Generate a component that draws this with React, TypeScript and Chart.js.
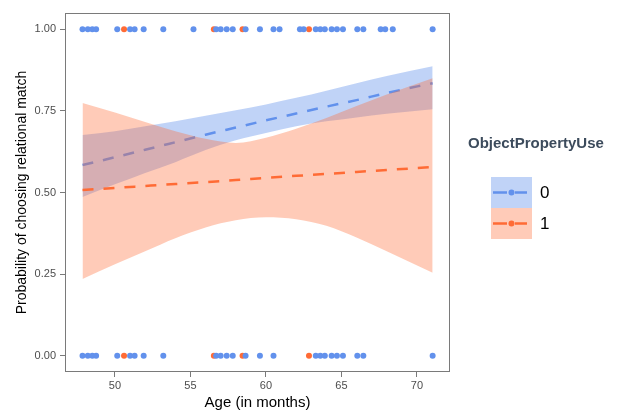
import React, { useEffect, useRef } from "react";
import { Chart, registerables } from "chart.js";

Chart.register(...registerables);

// ---- data ----
const bandAges = [47.85, 50, 52, 54, 56, 58, 60, 62, 64, 66, 68, 71.04];
const fit0 = [0.584, 0.608, 0.631, 0.654, 0.677, 0.699, 0.721, 0.742, 0.763, 0.783, 0.805, 0.835];
const upper0 = [0.676, 0.688, 0.703, 0.718, 0.735, 0.752, 0.77, 0.79, 0.812, 0.835, 0.857, 0.887];
const lower0 = [0.486, 0.525, 0.56, 0.593, 0.63, 0.66, 0.682, 0.703, 0.718, 0.73, 0.741, 0.755];
const fit1 = [0.508, 0.514, 0.52, 0.526, 0.532, 0.538, 0.545, 0.551, 0.557, 0.563, 0.569, 0.578];
const upper1 = [0.774, 0.745, 0.716, 0.688, 0.665, 0.652, 0.668, 0.695, 0.728, 0.765, 0.8, 0.85];
const lower1 = [0.235, 0.28, 0.32, 0.36, 0.393, 0.415, 0.424, 0.418, 0.398, 0.362, 0.32, 0.254];

const blueAt1 = [47.85, 48.2, 48.5, 48.75, 50.15, 51.0, 51.3, 51.9, 53.2, 55.2, 56.7, 57.0, 57.4, 57.8, 58.65, 59.6, 60.5, 60.9, 62.25, 62.5, 63.3, 63.6, 63.9, 64.35, 64.7, 65.1, 66.05, 66.45, 67.6, 67.9, 68.4, 71.04];
const orangeAt1 = [50.6, 56.55, 58.45, 62.85];
const blueAt0 = [47.85, 48.2, 48.5, 48.75, 50.15, 51.0, 51.3, 51.9, 53.2, 56.7, 57.0, 57.4, 57.8, 58.65, 59.6, 60.5, 63.3, 63.6, 63.9, 64.35, 64.7, 65.1, 66.05, 66.45, 71.04];
const orangeAt0 = [50.6, 56.55, 58.45, 62.85];

const xTicks = [50, 55, 60, 65, 70];
const yTicks = [0, 0.25, 0.5, 0.75, 1];
const legendTitle = "ObjectPropertyUse";
const legendLabels = ["0", "1"];

// ---- styles ----
const FAMILY = '"Liberation Sans", Arial, Helvetica, sans-serif';
const BLUE = "#6291EC";
const ORANGE = "#FF6B35";
const RIB_BLUE = "rgba(98,145,236,0.4)";
const RIB_ORANGE = "rgba(255,107,53,0.35)";
const AXIS_GREY = "#7a7a7a";
const CLEAR = "rgba(0,0,0,0)";

const legendPlugin = {
  id: "ggLegend",
  afterDraw(chart: any) {
    const c = chart.ctx as CanvasRenderingContext2D;
    const a = chart.chartArea;
    c.save();
    // panel border
    c.strokeStyle = AXIS_GREY;
    c.lineWidth = 1;
    c.setLineDash([]);
    c.strokeRect(Math.round(a.left) + 0.5, Math.round(a.top) + 0.5, Math.round(a.right - a.left) - 1, Math.round(a.bottom - a.top) - 1);

    // legend
    c.font = `bold 15px ${FAMILY}`;
    c.fillStyle = "#3c4b5c";
    c.textBaseline = "middle";
    c.textAlign = "left";
    c.fillText(legendTitle, 468, 144);
    const colors = [BLUE, ORANGE];
    const ribs = [RIB_BLUE, RIB_ORANGE];
    legendLabels.forEach((lab, i) => {
      const x0 = 491;
      const w = 41;
      const y0 = 177 + i * 31;
      const h = 31;
      c.fillStyle = "#fff";
      c.fillRect(x0, y0, w, h);
      c.fillStyle = ribs[i];
      c.fillRect(x0, y0, w, h);
      const cy = y0 + h / 2;
      c.strokeStyle = colors[i];
      c.lineWidth = 2.5;
      c.beginPath();
      c.moveTo(x0 + 2, cy);
      c.lineTo(x0 + 16, cy);
      c.moveTo(x0 + 24, cy);
      c.lineTo(x0 + 36, cy);
      c.stroke();
      c.fillStyle = colors[i];
      c.beginPath();
      c.arc(x0 + 20.5, cy, 3, 0, Math.PI * 2);
      c.fill();
      c.fillStyle = "#000";
      c.font = `17px ${FAMILY}`;
      c.fillText(lab, 540, cy + 0.5);
    });
    c.restore();
  },
};

export default function App() {
  const ref = useRef<HTMLCanvasElement>(null);
  useEffect(() => {
    const canvas = ref.current;
    if (!canvas) return;
    const band = (ys: number[]) => bandAges.map((x, i) => ({ x, y: ys[i] }));
    const pts = (xs: number[], y: number) => xs.map((x) => ({ x, y }));
    const ribbonEdge = {
      borderWidth: 0,
      borderColor: CLEAR,
      pointRadius: 0,
      cubicInterpolationMode: "monotone",
    };
    const fitLine = {
      borderWidth: 2.5,
      borderDash: [11, 10],
      pointRadius: 0,
      fill: false,
      cubicInterpolationMode: "monotone",
    };
    const chart = new Chart(canvas, {
      type: "line",
      data: {
        datasets: [
          { ...ribbonEdge, data: band(upper0), fill: { target: 1 }, backgroundColor: RIB_BLUE, order: 60 },
          { ...ribbonEdge, data: band(lower0), fill: false, order: 61 },
          { ...fitLine, data: band(fit0), borderColor: BLUE, order: 50 },
          { ...ribbonEdge, data: band(upper1), fill: { target: 4 }, backgroundColor: RIB_ORANGE, order: 40 },
          { ...ribbonEdge, data: band(lower1), fill: false, order: 41 },
          { ...fitLine, data: band(fit1), borderColor: ORANGE, order: 30 },
          {
            data: pts(orangeAt1, 1).concat(pts(orangeAt0, 0)),
            showLine: false,
            pointRadius: 3,
            pointBorderWidth: 0,
            pointBackgroundColor: ORANGE,
            pointBorderColor: ORANGE,
            order: 20,
          },
          {
            data: pts(blueAt1, 1).concat(pts(blueAt0, 0)),
            showLine: false,
            pointRadius: 3,
            pointBorderWidth: 0,
            pointBackgroundColor: BLUE,
            pointBorderColor: BLUE,
            order: 10,
          },
        ] as any,
      },
      options: {
        animation: false,
        responsive: false,
        devicePixelRatio: 1,
        layout: { padding: { top: 13, right: 168, left: 0, bottom: 0 } },
        plugins: {
          legend: { display: false },
          tooltip: { enabled: false },
          filler: { propagate: false },
        },
        scales: {
          x: {
            type: "linear",
            min: 46.69,
            max: 72.19,
            afterFit: (s: any) => {
              s.height = 38;
            },
            afterBuildTicks: (s: any) => {
              s.ticks = xTicks.map((v) => ({ value: v }));
            },
            grid: { display: true, drawOnChartArea: false, drawTicks: true, tickLength: 5, color: AXIS_GREY },
            border: { display: false },
            ticks: {
              color: "#4d4d4d",
              font: { size: 11, family: FAMILY },
              padding: 2,
              maxRotation: 0,
              autoSkip: false,
              callback: (v: any) => String(v),
            },
            title: {
              display: true,
              text: "Age (in months)",
              color: "#000",
              font: { size: 15, family: FAMILY, lineHeight: 1 },
              padding: { top: 0, bottom: 0 },
            },
          },
          y: {
            type: "linear",
            min: -0.05,
            max: 1.05,
            afterFit: (s: any) => {
              s.width = 65;
            },
            afterBuildTicks: (s: any) => {
              s.ticks = yTicks.map((v) => ({ value: v }));
            },
            grid: { display: true, drawOnChartArea: false, drawTicks: true, tickLength: 5, color: AXIS_GREY },
            border: { display: false },
            ticks: {
              color: "#4d4d4d",
              font: { size: 11, family: FAMILY },
              padding: 4,
              autoSkip: false,
              callback: (v: any) => Number(v).toFixed(2),
            },
            title: {
              display: true,
              text: "Probability of choosing relational match",
              color: "#000",
              font: { size: 14, family: FAMILY, lineHeight: 1 },
              padding: { top: 15, bottom: 0 },
            },
          },
        },
      } as any,
      plugins: [legendPlugin],
    });
    return () => chart.destroy();
  }, []);

  return (
    <div style={{ position: "absolute", left: 0, top: 0, width: 618, height: 410, background: "#fff" }}>
      <canvas ref={ref} width={618} height={410} style={{ display: "block" }} />
    </div>
  );
}
